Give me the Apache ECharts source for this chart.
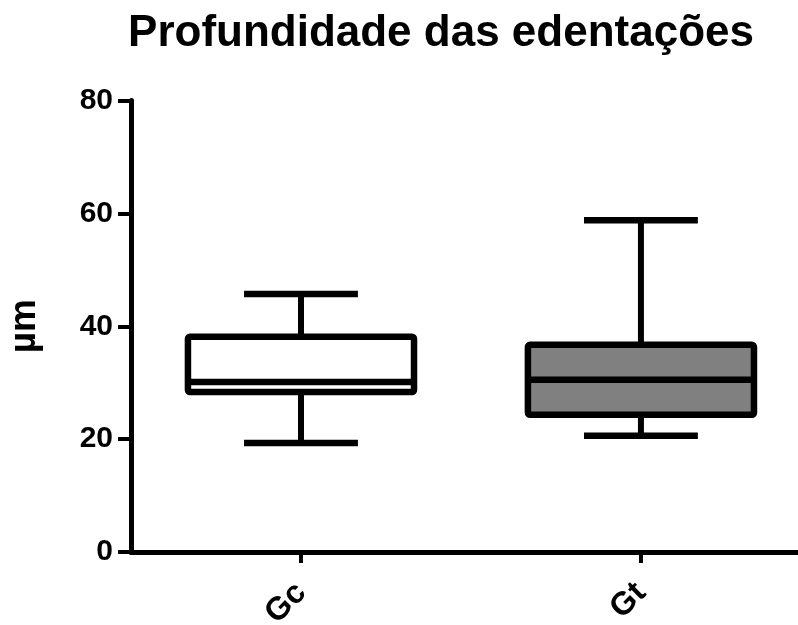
<!DOCTYPE html>
<html>
<head>
<meta charset="utf-8">
<script src="https://cdn.jsdelivr.net/npm/echarts@6/dist/echarts.min.js"></script>
<style>
  html, body { margin: 0; padding: 0; background: #fff; }
  #chart { width: 798px; height: 625px; }
</style>
</head>
<body>
<div id="chart"></div>
<script>
// Groups and their five-number summaries (µm)
const categories = ['Gc', 'Gt'];
const whiskerLow = [19.3, 20.6];
const quartile1 = [28.35, 24.3];
const medians = [30.1, 30.5];
const quartile3 = [38.15, 36.7];
const whiskerHigh = [45.7, 58.8];
const boxFill = ['#ffffff', '#808080'];
const yTicks = [0, 20, 40, 60, 80];

const FONT = '"Liberation Sans", Arial, Helvetica, sans-serif';

// Group positions on the x axis: 0, 1, ...
const groupPos = categories.map((c, i) => i);
const boxData = categories.map((c, i) => [groupPos[i], whiskerLow[i], quartile1[i], medians[i], quartile3[i], whiskerHigh[i]]);

function renderBox(params, api) {
  const pos = api.value(0);
  const band = api.size([1, 0])[0];
  const boxW = band * 0.665;
  const capW = band * 0.335;
  const lo = api.coord([pos, api.value(1)]);
  const q1 = api.coord([pos, api.value(2)]);
  const md = api.coord([pos, api.value(3)]);
  const q3 = api.coord([pos, api.value(4)]);
  const hi = api.coord([pos, api.value(5)]);
  const cx = lo[0];
  const line = (x1, y1, x2, y2, w) => ({
    type: 'line',
    shape: { x1, y1, x2, y2 },
    style: { stroke: '#000', lineWidth: w, lineCap: 'butt' }
  });
  return {
    type: 'group',
    children: [
      line(cx, hi[1], cx, q3[1], 6),
      line(cx, q1[1], cx, lo[1], 6),
      line(cx - capW / 2, hi[1], cx + capW / 2, hi[1], 6.5),
      line(cx - capW / 2, lo[1], cx + capW / 2, lo[1], 6.5),
      {
        type: 'rect',
        shape: { x: cx - boxW / 2, y: q3[1], width: boxW, height: q1[1] - q3[1], r: 2 },
        style: { fill: boxFill[params.dataIndex], stroke: '#000', lineWidth: 6.5, lineJoin: 'round' }
      },
      line(cx - boxW / 2, md[1], cx + boxW / 2, md[1], 6.5)
    ]
  };
}

const chart = echarts.init(document.getElementById('chart'), null, { renderer: 'canvas' });
chart.setOption({
  animation: false,
  backgroundColor: '#ffffff',
  title: {
    text: 'Profundidade das edentações',
    left: 436,
    top: 7,
    textAlign: 'center',
    textStyle: { fontFamily: FONT, fontWeight: 'bold', fontSize: 44, color: '#000' }
  },
  grid: { left: 131, top: 100.5, right: 0, height: 451.5, containLabel: false, outerBoundsMode: 'none' },
  xAxis: {
    type: 'value',
    // each group occupies one unit; the axis runs off the right edge
    min: -0.5,
    max: 1.462,
    axisLine: { onZero: false, lineStyle: { color: '#000', width: 5 } },
    axisTick: { customValues: groupPos, length: 11, lineStyle: { color: '#000', width: 4 } },
    axisLabel: {
      customValues: groupPos,
      formatter: (v) => categories[Math.round(v)],
      rotate: 45,
      margin: 36,
      fontFamily: FONT, fontWeight: 'bold', fontSize: 32, color: '#000'
    },
    splitLine: { show: false }
  },
  yAxis: {
    type: 'value',
    min: yTicks[0],
    max: yTicks[yTicks.length - 1],
    interval: 20,
    name: 'µm',
    nameLocation: 'middle',
    nameRotate: 90,
    nameGap: 88,
    nameTextStyle: { fontFamily: FONT, fontWeight: 'bold', fontSize: 37, color: '#000' },
    axisLine: { show: true, onZero: false, lineStyle: { color: '#000', width: 5 } },
    axisTick: { show: true, length: 13, lineStyle: { color: '#000', width: 4 } },
    axisLabel: { margin: 18, fontFamily: FONT, fontWeight: 'bold', fontSize: 30, color: '#000' },
    splitLine: { show: false }
  },
  series: [{
    type: 'custom',
    renderItem: renderBox,
    encode: { x: 0, y: [1, 2, 3, 4, 5] },
    data: boxData,
    clip: false
  }]
});
</script>
</body>
</html>
